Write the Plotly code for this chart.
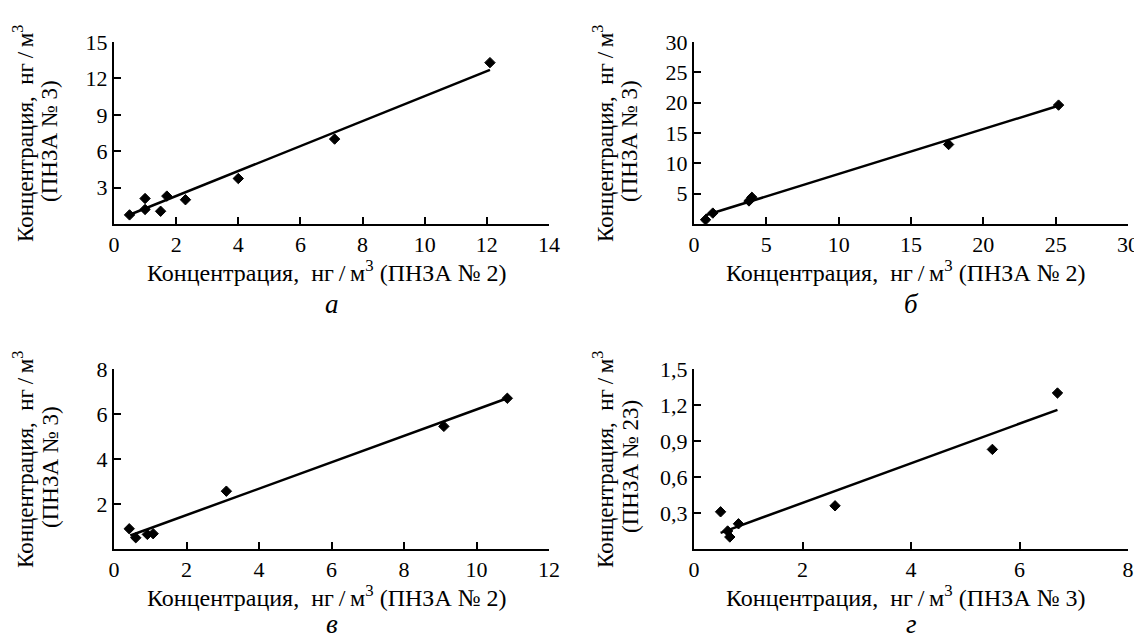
import plotly.graph_objects as go

# ---------------- data ----------------
a_x = [0.5, 1.0, 1.0, 1.5, 1.7, 2.3, 4.0, 7.1, 12.1]
a_y = [0.75, 2.1, 1.2, 1.05, 2.3, 2.0, 3.75, 7.0, 13.3]
a_line_x = [0.5, 12.1]
a_line_y = [0.76, 12.7]

b_x = [0.8, 1.3, 3.8, 4.0, 17.6, 25.2]
b_y = [0.7, 1.8, 3.8, 4.4, 13.1, 19.6]
b_line_x = [0.8, 25.3]
b_line_y = [1.44, 19.57]

c_x = [0.42, 0.6, 0.92, 1.08, 3.1, 9.1, 10.85]
c_y = [0.9, 0.5, 0.65, 0.68, 2.57, 5.45, 6.7]
c_line_x = [0.45, 10.85]
c_line_y = [0.6, 6.7]

d_x = [0.49, 0.62, 0.66, 0.82, 2.6, 5.5, 6.7]
d_y = [0.31, 0.15, 0.10, 0.21, 0.36, 0.83, 1.3]
d_line_x = [0.49, 6.7]
d_line_y = [0.135, 1.16]

a_xticks = [0, 2, 4, 6, 8, 10, 12, 14]
a_yticks = [3, 6, 9, 12, 15]
b_xticks = [0, 5, 10, 15, 20, 25, 30]
b_yticks = [5, 10, 15, 20, 25, 30]
c_xticks = [0, 2, 4, 6, 8, 10, 12]
c_yticks = [2, 4, 6, 8]
d_xticks = [0, 2, 4, 6, 8]
d_yticks = [0.3, 0.6, 0.9, 1.2, 1.5]
d_yticktext = ["0,3", "0,6", "0,9", "1,2", "1,5"]

UNIT = "Концентрация,  нг\u2009/\u2009м<sup>3</sup>"
x_titles = [
    UNIT + " (ПНЗА № 2)",
    UNIT + " (ПНЗА № 2)",
    UNIT + " (ПНЗА № 2)",
    UNIT + " (ПНЗА № 3)",
]
y_titles_1 = [UNIT, UNIT, UNIT, UNIT]
y_titles_2 = ["(ПНЗА № 3)", "(ПНЗА № 3)", "(ПНЗА № 3)", "(ПНЗА № 23)"]
captions = ["а", "б", "в", "г"]

# ---------------- layout geometry ----------------
W, H = 1142, 640
OFF = 8  # page body margin
FONT = "Liberation Serif, DejaVu Serif, Times New Roman, serif"

# pixel boxes in page coordinates: (left, right, top, bottom)
boxes = [
    (114, 549, 42, 224),
    (694, 1128, 42, 224),
    (114, 549, 369, 549),
    (694, 1128, 369, 549),
]

def fx(px):
    return (px - OFF) / W

def fy(py):
    return 1 - (py - OFF) / H

fig = go.Figure()

panels = [
    (a_x, a_y, a_line_x, a_line_y, [0, 14], [0, 15], a_xticks, a_yticks, None),
    (b_x, b_y, b_line_x, b_line_y, [0, 30], [0, 30], b_xticks, b_yticks, None),
    (c_x, c_y, c_line_x, c_line_y, [0, 12], [0, 8], c_xticks, c_yticks, None),
    (d_x, d_y, d_line_x, d_line_y, [0, 8], [0, 1.5], d_xticks, d_yticks, d_yticktext),
]

annotations = []
for i, (px, py, lx, ly, xr, yr, xt, yt, ytt) in enumerate(panels):
    n = "" if i == 0 else str(i + 1)
    xa = "x" + n
    ya = "y" + n
    fig.add_trace(go.Scatter(x=lx, y=ly, mode="lines",
                             line=dict(color="black", width=2.5),
                             xaxis=xa, yaxis=ya, showlegend=False, hoverinfo="skip"))
    fig.add_trace(go.Scatter(x=px, y=py, mode="markers",
                             marker=dict(symbol="diamond", size=8, color="black",
                                         line=dict(color="black", width=1)),
                             xaxis=xa, yaxis=ya, showlegend=False))
    l, r, t, b = boxes[i]
    common = dict(showline=True, linecolor="black", linewidth=2, showgrid=False,
                  zeroline=False, ticks="inside", ticklen=7, tickwidth=2,
                  tickcolor="black", automargin=False,
                  tickfont=dict(family=FONT, size=22, color="black"))
    fig.update_layout(**{
        "xaxis" + n: dict(domain=[fx(l), fx(r)], range=xr, tickmode="array",
                          tickvals=xt, anchor=ya, **common),
        "yaxis" + n: dict(domain=[fy(b), fy(t)], range=yr, tickmode="array",
                          tickvals=yt, ticktext=ytt if ytt else [str(v) for v in yt],
                          anchor=xa, **common),
    })
    cx = (l + r) / 2
    cy = (t + b) / 2
    tfont = dict(family=FONT, size=24, color="black")
    yfont = dict(family=FONT, size=23, color="black")
    annotations.append(dict(text=x_titles[i], x=fx(cx - 5), y=fy(b + 47), xref="paper",
                            yref="paper", xanchor="center", yanchor="middle",
                            showarrow=False, font=tfont))
    annotations.append(dict(text=y_titles_1[i], x=fx(l - 91), y=fy(cy + 1), xref="paper",
                            yref="paper", xanchor="center", yanchor="middle",
                            textangle=-90, showarrow=False, borderpad=0, font=yfont))
    annotations.append(dict(text=y_titles_2[i], x=fx(l - 64), y=fy(cy + 8), xref="paper",
                            yref="paper", xanchor="center", yanchor="middle",
                            textangle=-90, showarrow=False, borderpad=0, font=yfont))
    cap = dict(text="<i>" + captions[i] + "</i>", x=fx(cx), xref="paper",
               yref="paper", xanchor="center", showarrow=False, borderpad=0,
               font=dict(family=FONT, size=27, color="black"))
    if i < 2:
        cap.update(y=fy(b + 80), yanchor="middle")
    else:
        cap.update(y=fy(640), yanchor="bottom")
    annotations.append(cap)

fig.update_layout(width=W, height=H, margin=dict(l=0, r=0, t=0, b=0),
                  paper_bgcolor="white", plot_bgcolor="white",
                  annotations=annotations, showlegend=False)

fig.write_html("out.html")
